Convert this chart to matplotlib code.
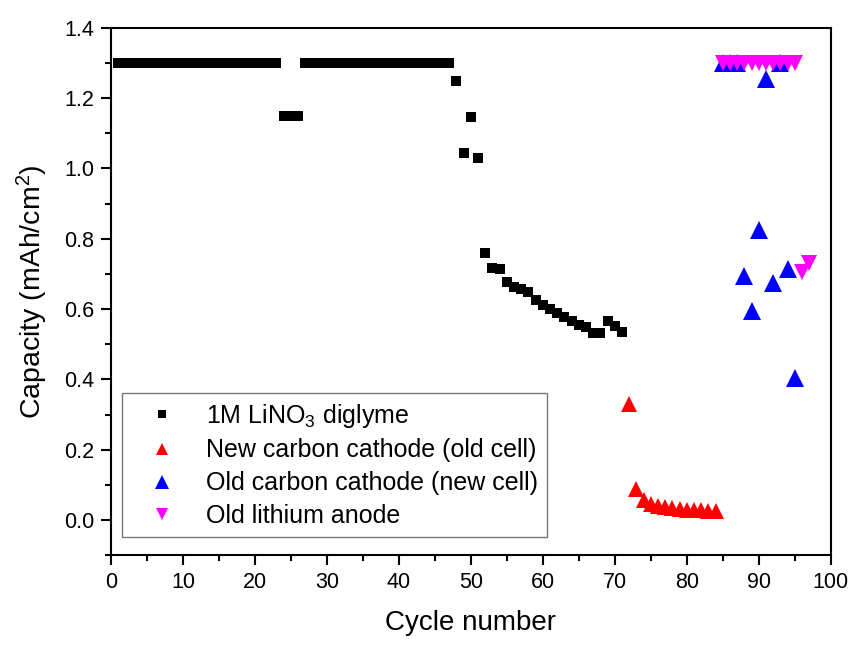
import matplotlib
matplotlib.use("Agg")
import matplotlib.pyplot as plt
from matplotlib.ticker import MultipleLocator

plt.rcParams['font.family'] = ['Liberation Sans', 'DejaVu Sans']
plt.rcParams['mathtext.fontset'] = 'custom'
plt.rcParams['mathtext.rm'] = 'Liberation Sans'
plt.rcParams['mathtext.it'] = 'Liberation Sans:italic'

# Data
black_x = list(range(1, 72))
black_y = ([1.3] * 23 + [1.15, 1.15, 1.15] + [1.3] * 21 +
           [1.249, 1.043, 1.147, 1.031, 0.760, 0.717, 0.713, 0.676, 0.663, 0.656,
            0.648, 0.625, 0.611, 0.600, 0.590, 0.578, 0.566, 0.555, 0.548, 0.533,
            0.533, 0.566, 0.552, 0.535])
red_x = list(range(72, 85))
red_y = [0.33, 0.088, 0.058, 0.045, 0.040, 0.037, 0.034, 0.032, 0.030, 0.029, 0.028, 0.027, 0.025]
blue_x = list(range(85, 96))
blue_y = [1.3, 1.3, 1.3, 0.694, 0.595, 0.826, 1.255, 0.675, 1.3, 0.713, 0.405]
mag_x = list(range(85, 98))
mag_y = [1.3] * 11 + [0.706, 0.73]

labels = ["1M LiNO$_3$ diglyme", "New carbon cathode (old cell)",
          "Old carbon cathode (new cell)", "Old lithium anode"]

fig = plt.figure(figsize=(8.53, 6.46), dpi=100)
ax = fig.add_axes([0.130, 0.1404, 0.844, 0.8167])

ax.plot(black_x, black_y, 's', color='black', ms=7.5, mew=0, label=labels[0])
ax.plot(red_x, red_y, '^', color='#FF0000', ms=11, mew=0, label=labels[1])
ax.plot(blue_x, blue_y, '^', color='#0000FF', ms=13.5, mew=0, label=labels[2])
ax.plot(mag_x, mag_y, 'v', color='#FF00FF', ms=12, mew=0, label=labels[3])

ax.set_xlim(0, 100)
ax.set_ylim(-0.1, 1.4)
ax.xaxis.set_major_locator(MultipleLocator(10))
ax.xaxis.set_minor_locator(MultipleLocator(5))
ax.yaxis.set_minor_locator(MultipleLocator(0.1))
ax.set_yticks([0.0, 0.2, 0.4, 0.6, 0.8, 1.0, 1.2, 1.4])
ax.yaxis.set_major_formatter(matplotlib.ticker.FormatStrFormatter('%.1f'))
ax.tick_params(axis='both', which='major', direction='out', length=7, width=1.5,
               labelsize=15.5, pad=5)
ax.tick_params(axis='both', which='minor', direction='out', length=4, width=1.5)
for s in ax.spines.values():
    s.set_linewidth(1.5)

ax.set_xlabel("Cycle number", fontsize=20, labelpad=12)
ax.set_ylabel("Capacity (mAh/cm$^2$)", fontsize=20.5, labelpad=10)

leg = ax.legend(loc='upper left', bbox_to_anchor=(122/853, 1 - 393/646),
                bbox_transform=fig.transFigure, fontsize=18, frameon=True,
                fancybox=False, edgecolor='#555555', markerscale=0.75,
                handletextpad=0.5, labelspacing=0.35, borderpad=0.35,
                handlelength=2.5, borderaxespad=0)
leg.get_frame().set_linewidth(1.0)

fig.savefig("out.png", dpi=100)
